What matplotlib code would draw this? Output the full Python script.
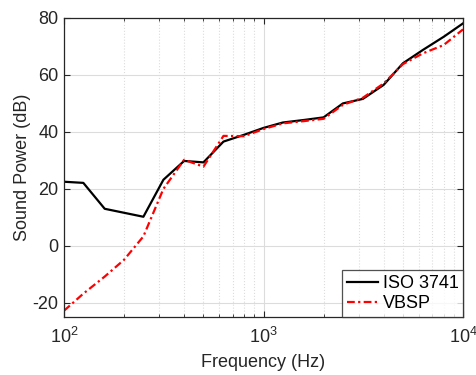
import numpy as np
import matplotlib
matplotlib.use("Agg")
import matplotlib.pyplot as plt
from matplotlib.ticker import LogLocator, NullFormatter

plt.rcParams['font.family'] = ['Liberation Sans', 'DejaVu Sans']
plt.rcParams['axes.unicode_minus'] = False

# 1/3 octave band centre frequencies
freq = [100, 125, 160, 200, 250, 315, 400, 500, 630, 800, 1000, 1250, 1600,
        2000, 2500, 3150, 4000, 5000, 6300, 8000, 10000]
iso_3741 = [22.5, 22.1, 13.0, 11.6, 10.2, 23.2, 29.8, 29.3, 36.6, 39.0, 41.4,
            43.3, 44.2, 45.1, 50.0, 51.6, 56.5, 64.1, 68.8, 73.4, 78.1]
vbsp = [-22.8, -16.8, -10.8, -4.9, 3.3, 20.0, 30.2, 27.8, 38.6, 38.5, 41.0,
        43.0, 43.8, 44.6, 49.5, 52.0, 57.0, 63.8, 67.6, 70.5, 76.0]

fs = 13

fig = plt.figure(figsize=(4.76, 3.75), dpi=100)
ax = fig.add_axes([64 / 476, 1 - 317 / 375, 399 / 476, 299 / 375])

ax.semilogx(freq, iso_3741, color='black', lw=1.6, label='ISO 3741')
ax.semilogx(freq, vbsp, color='red', lw=1.6, ls=(0, (3.5, 1.5, 1.0, 1.5)), label='VBSP')

ax.set_xlim(100, 10000)
ax.set_ylim(-25, 80)
ax.set_yticks([-20, 0, 20, 40, 60, 80])
ax.xaxis.set_minor_locator(LogLocator(base=10, subs=np.arange(2, 10)))
ax.xaxis.set_minor_formatter(NullFormatter())

ax.grid(True, which='major', color='#dcdcdc', lw=0.8)
ax.grid(True, which='minor', axis='x', color='#dcdcdc', lw=0.8, ls=':')
ax.set_axisbelow(True)

ax.tick_params(which='both', direction='in', top=True, right=True, labelsize=fs,
               colors='#262626')
ax.tick_params(which='major', length=4)
ax.tick_params(which='minor', length=2)
ax.tick_params(axis='x', pad=7)
ax.tick_params(axis='y', pad=4)
for s in ax.spines.values():
    s.set_color('#262626')
    s.set_linewidth(0.9)

ax.set_xlabel('Frequency (Hz)', fontsize=fs, color='#262626', labelpad=5)
ax.set_ylabel('Sound Power (dB)', fontsize=fs, color='#262626', labelpad=1)

leg = ax.legend(loc='lower right', fontsize=fs, frameon=True, fancybox=False,
                borderaxespad=0, handlelength=1.75, handletextpad=0.25,
                borderpad=0.25, labelspacing=0.2)
leg.get_frame().set_edgecolor('#262626')
leg.get_frame().set_linewidth(0.9)

fig.savefig('out.png', dpi=100)
